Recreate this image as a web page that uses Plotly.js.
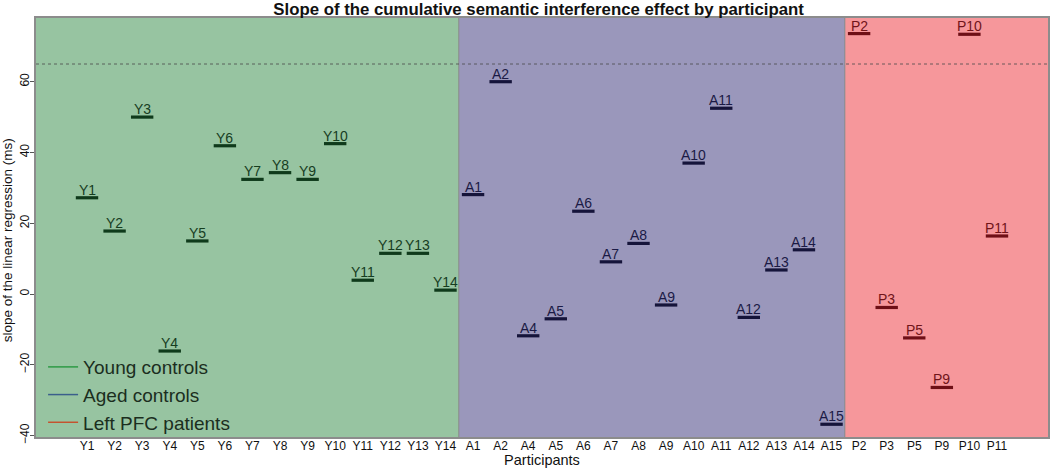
<!DOCTYPE html>
<html>
<head>
<meta charset="utf-8">
<script src="https://cdn.plot.ly/plotly-3.0.1.min.js"></script>
<style>body{margin:0;background:#fff}#chart{width:1050px;height:468px}</style>
</head>
<body>
<div id="chart"></div>
<script>
var youngIds = ['Y1','Y2','Y3','Y4','Y5','Y6','Y7','Y8','Y9','Y10','Y11','Y12','Y13','Y14'];
var youngSlopes = [27.2, 17.8, 50.0, -16.1, 15.0, 41.9, 32.4, 34.3, 32.4, 42.5, 3.9, 11.5, 11.5, 1.1];

var agedIds = ['A1','A2','A4','A5','A6','A7','A8','A9','A10','A11','A12','A13','A14','A15'];
var agedSlopes = [28.1, 60.0, -11.8, -7.0, 23.4, 9.1, 14.3, -3.1, 37.0, 52.5, -6.6, 6.8, 12.5, -36.8];

var patientIds = ['P2','P3','P5','P9','P10','P11'];
var patientSlopes = [73.6, -3.8, -12.4, -26.4, 73.4, 16.4];

var cutoff = 65;

var groups = [
  {name: 'Young controls', ids: youngIds, vals: youngSlopes, mark: '#0f3a1b', txt: '#163d1f', leg: '#2e9a45', bg: '#97c4a1'},
  {name: 'Aged controls', ids: agedIds, vals: agedSlopes, mark: '#15143a', txt: '#1b1a45', leg: '#3b5f8c', bg: '#9a97bb'},
  {name: 'Left PFC patients', ids: patientIds, vals: patientSlopes, mark: '#6e0f16', txt: '#701419', leg: '#c4532f', bg: '#f6979b'}
];

var allIds = youngIds.concat(agedIds, patientIds);
var xmin = -1.85, xmax = allIds.length - 1 + 1.85;

var data = [];
var annotations = [];
var shapes = [];
var start = xmin, idx = 0;

groups.forEach(function (g, gi) {
  data.push({
    x: g.ids, y: g.vals, type: 'scatter', mode: 'markers', showlegend: false,
    hoverinfo: 'x+y',
    marker: {symbol: 'line-ew', size: 16, line: {width: 3.2, color: g.mark}}
  });
  g.ids.forEach(function (id, i) {
    annotations.push({
      x: id, y: g.vals[i], xref: 'x', yref: 'y', text: id, showarrow: false,
      yanchor: 'bottom', yshift: -2, font: {family: 'Arial', size: 14, color: g.txt}
    });
  });
  idx += g.ids.length;
  var end = gi === groups.length - 1 ? xmax : idx - 0.5;
  shapes.push({type: 'rect', layer: 'below', xref: 'x', yref: 'paper', x0: start, x1: end, y0: 0, y1: 1,
    fillcolor: g.bg, line: {width: 0}});
  if (gi < groups.length - 1) {
    shapes.push({type: 'line', layer: 'below', xref: 'x', yref: 'paper', x0: end, x1: end, y0: 0, y1: 1,
      line: {color: '#8a8a8a', width: 2}});
  }
  start = end;
});

shapes.push({type: 'line', layer: 'below', xref: 'paper', yref: 'y', x0: 0, x1: 1, y0: cutoff, y1: cutoff,
  line: {color: '#4a4a4a', width: 0.8, dash: 'dot'}});

// y axis title placed by hand, R centres it a bit lower than plotly does
annotations.push({
  xref: 'paper', yref: 'paper', x: -0.0285, y: 0.47, xanchor: 'center', yanchor: 'middle',
  textangle: -90, showarrow: false, text: 'slope of the linear regression (ms)',
  font: {family: 'Arial', size: 13.5, color: '#111111'}
});

groups.forEach(function (g) {
  data.push({
    x: [null], y: [null], type: 'scatter', mode: 'lines', name: g.name,
    line: {color: g.leg, width: 1.5}
  });
});

var layout = {
  width: 1050, height: 468,
  margin: {l: 36, r: 2, t: 18, b: 31},
  paper_bgcolor: '#ffffff', plot_bgcolor: '#ffffff',
  font: {family: 'Arial', color: '#111111'},
  title: {text: '<b>Slope of the cumulative semantic interference effect by participant</b>',
    x: 0.513, xanchor: 'center', y: 0.981, yanchor: 'middle', pad: {t: 0}, font: {size: 16.8, color: '#111111'}},
  xaxis: {
    type: 'category', categoryarray: allIds, categoryorder: 'array',
    range: [xmin, xmax], showgrid: false, zeroline: false,
    showline: true, mirror: true, linecolor: '#8c8c8c', linewidth: 2,
    ticks: '', tickfont: {size: 12, color: '#111111'}, ticklabelstandoff: -3,
    title: {text: 'Participants', font: {size: 14.5, color: '#111111'}, standoff: 0}
  },
  yaxis: {
    range: [-40.4, 78], tickvals: [-40, -20, 0, 20, 40, 60], tickangle: -90,
    showgrid: false, zeroline: false,
    showline: true, mirror: true, linecolor: '#8c8c8c', linewidth: 2,
    ticks: 'outside', ticklen: 4, tickcolor: '#555555', tickfont: {size: 12, color: '#111111'},
    ticklabelstandoff: -4
  },
  showlegend: true,
  legend: {x: 0.007, y: -0.012, xanchor: 'left', yanchor: 'bottom', bgcolor: 'rgba(0,0,0,0)',
    font: {size: 19, color: '#1b2e1e'}, tracegroupgap: 0, itemwidth: 30},
  shapes: shapes,
  annotations: annotations
};

Plotly.newPlot('chart', data, layout, {displayModeBar: false, staticPlot: true});
</script>
</body>
</html>
